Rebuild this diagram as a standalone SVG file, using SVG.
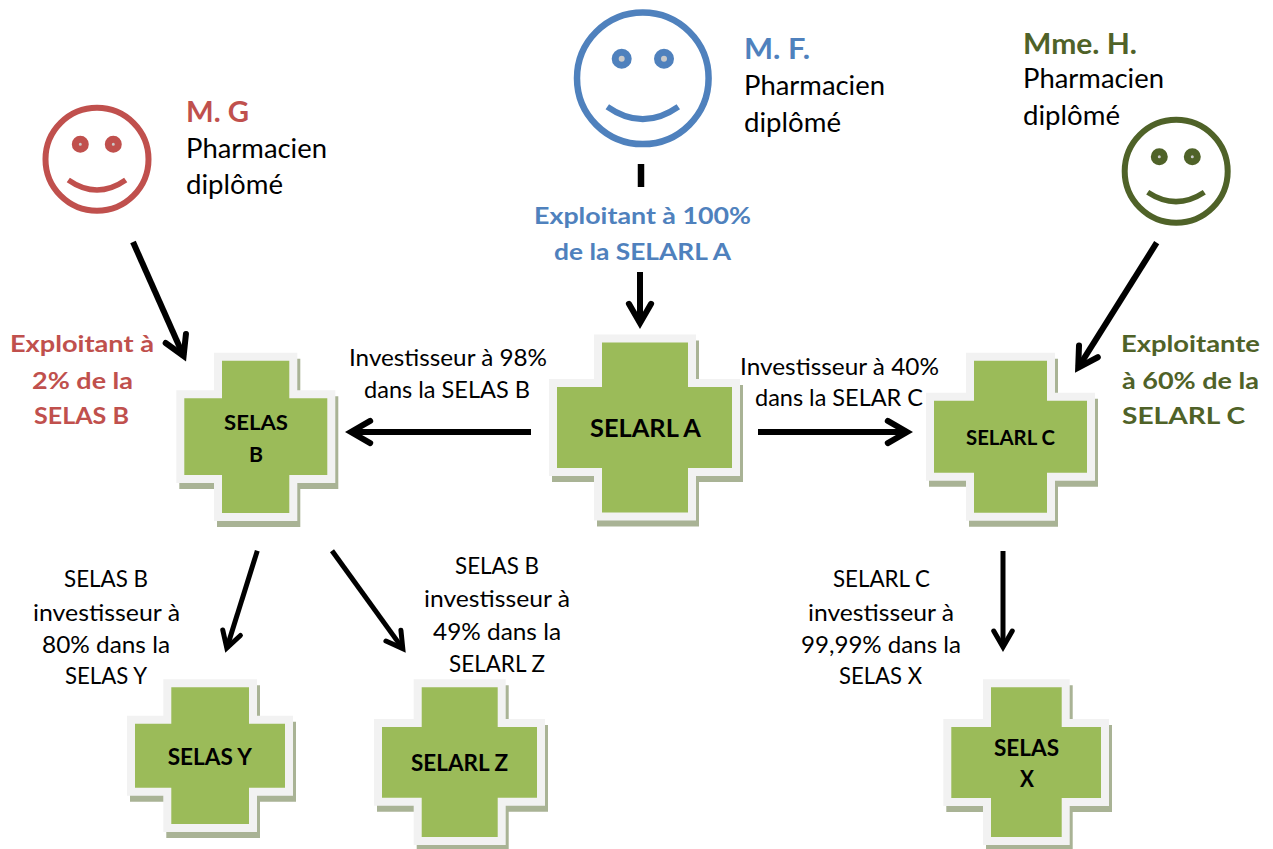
<svg xmlns="http://www.w3.org/2000/svg" width="1273" height="849" viewBox="0 0 1273 849">
<style>
text{font-family:"Lato","Carlito","Open Sans",sans-serif;fill:#000}
.b{font-weight:700}
.name{font-size:28px;font-weight:700}
.ph{font-size:26px}
.lead{font-size:23.5px;font-weight:700}
.inv{font-size:22.5px}
.n1{font-size:25px;font-weight:700}
.n2{font-size:21.5px;font-weight:700}
.n3{font-size:22px;font-weight:700}
.blue{fill:#4f81bd}.red{fill:#c0504d}.green{fill:#4f6228}
.shadow{fill:#a9b395;stroke:#a9b395;stroke-width:8;stroke-linejoin:miter}
.cross{fill:#9bbb59;stroke:#f2f2f2;stroke-width:8;stroke-linejoin:miter}
.face{fill:#fff;stroke-width:6}
.eye{fill:#c9c9c9;stroke-width:7}
.mouth{fill:none;stroke-width:5.5}
.sb{stroke:#4f81bd}.sr{stroke:#c0504d}.sg{stroke:#4f6228}
.arrow{fill:none;stroke:#000;marker-end:url(#head)}
.w6{stroke-width:6}.w5{stroke-width:5}
</style>
<defs>
<marker id="head" viewBox="-4.5 -3 6.5 6" refX="0" refY="0" markerWidth="6.5" markerHeight="6" orient="auto" markerUnits="strokeWidth">
<path d="M-3.2,-1.85 L0,0 L-3.2,1.85" fill="none" stroke="#000" stroke-width="1" stroke-linecap="round" stroke-linejoin="miter"/>
</marker>
</defs>
<g id="connectors">
<line x1="641" y1="164" x2="641" y2="187" stroke="#000" stroke-width="6.5"/>
<line class="arrow w6" x1="640" y1="272" x2="640" y2="323"/>
<line class="arrow w6" x1="133" y1="242" x2="183.6" y2="356"/>
<line class="arrow w6" x1="1156.7" y1="242.7" x2="1078.2" y2="367.6"/>
<line class="arrow w6" x1="531" y1="432" x2="351" y2="432"/>
<line class="arrow w6" x1="758" y1="432" x2="907" y2="432"/>
<line class="arrow w5" x1="257.3" y1="550.7" x2="226.8" y2="648"/>
<line class="arrow w5" x1="332" y1="550.7" x2="402.8" y2="648.6"/>
<line class="arrow w5" x1="1003" y1="551" x2="1003" y2="647"/>
</g>
<g id="person-g">
<circle class="face sr" cx="97" cy="159.2" r="51.5"/>
<circle class="eye sr" cx="80.3" cy="144.3" r="5"/>
<circle class="eye sr" cx="113.3" cy="144.3" r="5"/>
<path class="mouth sr" d="M68.3 180Q97 200 125.7 180"/>
<text class="name red" x="186" y="122" textLength="63" lengthAdjust="spacingAndGlyphs">M. G</text>
<text class="ph" x="186" y="158" textLength="141" lengthAdjust="spacingAndGlyphs">Pharmacien</text>
<text class="ph" x="186" y="194" textLength="97" lengthAdjust="spacingAndGlyphs">diplômé</text>
<text class="lead red" x="10" y="352" textLength="144" lengthAdjust="spacingAndGlyphs">Exploitant à</text>
<text class="lead red" x="32" y="389" textLength="101" lengthAdjust="spacingAndGlyphs">2% de la</text>
<text class="lead red" x="34" y="424" textLength="95" lengthAdjust="spacingAndGlyphs">SELAS B</text>
</g>
<g id="person-f">
<circle class="face sb" cx="642.8" cy="78.3" r="65.8" style="stroke-width:6.5"/>
<circle class="eye sb" cx="621.7" cy="58.7" r="6.5"/>
<circle class="eye sb" cx="664" cy="58.7" r="6.5"/>
<path class="mouth sb" d="M607.3 106.7Q642.8 131.6 678.3 106.7" style="stroke-width:6"/>
<text class="name blue" x="744" y="59" textLength="66" lengthAdjust="spacingAndGlyphs">M. F.</text>
<text class="ph" x="744" y="95" textLength="141" lengthAdjust="spacingAndGlyphs">Pharmacien</text>
<text class="ph" x="744" y="132" textLength="97" lengthAdjust="spacingAndGlyphs">diplômé</text>
<text class="lead blue" x="534" y="224" textLength="217" lengthAdjust="spacingAndGlyphs">Exploitant à 100%</text>
<text class="lead blue" x="554" y="260" textLength="177" lengthAdjust="spacingAndGlyphs">de la SELARL A</text>
</g>
<g id="person-h">
<circle class="face sg" cx="1176.2" cy="171.2" r="51.5"/>
<circle class="eye sg" cx="1159.3" cy="156.7" r="5"/>
<circle class="eye sg" cx="1192.3" cy="156.7" r="5"/>
<path class="mouth sg" d="M1147.7 192.3Q1176 211 1204.3 192.3"/>
<text class="name green" x="1023" y="54" textLength="114" lengthAdjust="spacingAndGlyphs">Mme. H.</text>
<text class="ph" x="1023" y="88" textLength="141" lengthAdjust="spacingAndGlyphs">Pharmacien</text>
<text class="ph" x="1023" y="125" textLength="97" lengthAdjust="spacingAndGlyphs">diplômé</text>
<text class="lead green" x="1121" y="352" textLength="139" lengthAdjust="spacingAndGlyphs">Exploitante</text>
<text class="lead green" x="1122" y="389" textLength="137" lengthAdjust="spacingAndGlyphs">à 60% de la</text>
<text class="lead green" x="1122" y="424" textLength="123" lengthAdjust="spacingAndGlyphs">SELARL C</text>
</g>
<g id="selarl-a">
<path class="shadow" transform="translate(3 6)" d="M598 338.5H692V383H736V472H692V516.5H598V472H553V383H598Z"/>
<path class="cross" d="M598 338.5H692V383H736V472H692V516.5H598V472H553V383H598Z"/>
<text class="n1" x="590" y="437" textLength="111" lengthAdjust="spacingAndGlyphs">SELARL A</text>
</g>
<g id="selas-b">
<path class="shadow" transform="translate(3 6)" d="M218 356.7H293.3V394.3H331.3V479H293.3V517H218V479H180.3V394.3H218Z"/>
<path class="cross" d="M218 356.7H293.3V394.3H331.3V479H293.3V517H218V479H180.3V394.3H218Z"/>
<text class="n2" x="224" y="430" textLength="64" lengthAdjust="spacingAndGlyphs">SELAS</text>
<text class="n2" x="249" y="462" textLength="14" lengthAdjust="spacingAndGlyphs">B</text>
</g>
<g id="selarl-c">
<path class="shadow" transform="translate(3 6)" d="M970 356.7H1051V396.7H1091V476.7H1051V516.7H970V476.7H930V396.7H970Z"/>
<path class="cross" d="M970 356.7H1051V396.7H1091V476.7H1051V516.7H970V476.7H930V396.7H970Z"/>
<text class="n2" x="966" y="445" textLength="89" lengthAdjust="spacingAndGlyphs">SELARL C</text>
</g>
<g id="selas-y">
<path class="shadow" transform="translate(3 6)" d="M167.3 683.3H253V719.7H289V791.7H253V828H167.3V791.7H131V719.7H167.3Z"/>
<path class="cross" d="M167.3 683.3H253V719.7H289V791.7H253V828H167.3V791.7H131V719.7H167.3Z"/>
<text class="n3" x="167.7" y="765" textLength="84.3" lengthAdjust="spacingAndGlyphs">SELAS Y</text>
</g>
<g id="selarl-z">
<path class="shadow" transform="translate(3 6)" d="M417.7 683.3H501.7V723H541V801.7H501.7V841H417.7V801.7H378V723H417.7Z"/>
<path class="cross" d="M417.7 683.3H501.7V723H541V801.7H501.7V841H417.7V801.7H378V723H417.7Z"/>
<text class="n3" x="411" y="770.7" textLength="97" lengthAdjust="spacingAndGlyphs">SELARL Z</text>
</g>
<g id="selas-x">
<path class="shadow" transform="translate(3 6)" d="M987 683.3H1065.7V723H1105V802H1065.7V841H987V802H947.3V723H987Z"/>
<path class="cross" d="M987 683.3H1065.7V723H1105V802H1065.7V841H987V802H947.3V723H987Z"/>
<text class="n3" x="994" y="756" textLength="65" lengthAdjust="spacingAndGlyphs">SELAS</text>
<text class="n3" x="1020" y="787" textLength="14" lengthAdjust="spacingAndGlyphs">X</text>
</g>
<g id="labels">
<text class="inv" x="349" y="366" textLength="198" lengthAdjust="spacingAndGlyphs">Investisseur à 98%</text>
<text class="inv" x="364" y="398" textLength="166" lengthAdjust="spacingAndGlyphs">dans la SELAS B</text>
<text class="inv" x="740" y="375" textLength="199" lengthAdjust="spacingAndGlyphs">Investisseur à 40%</text>
<text class="inv" x="755" y="406" textLength="168" lengthAdjust="spacingAndGlyphs">dans la SELAR C</text>
<text class="inv" x="64" y="587" textLength="84" lengthAdjust="spacingAndGlyphs">SELAS B</text>
<text class="inv" x="33" y="621" textLength="147" lengthAdjust="spacingAndGlyphs">investisseur à</text>
<text class="inv" x="42" y="653" textLength="128" lengthAdjust="spacingAndGlyphs">80% dans la</text>
<text class="inv" x="65" y="684" textLength="82" lengthAdjust="spacingAndGlyphs">SELAS Y</text>
<text class="inv" x="455" y="574" textLength="84" lengthAdjust="spacingAndGlyphs">SELAS B</text>
<text class="inv" x="424" y="607" textLength="146" lengthAdjust="spacingAndGlyphs">investisseur à</text>
<text class="inv" x="433" y="640" textLength="128" lengthAdjust="spacingAndGlyphs">49% dans la</text>
<text class="inv" x="449" y="672" textLength="96" lengthAdjust="spacingAndGlyphs">SELARL Z</text>
<text class="inv" x="833" y="587" textLength="97" lengthAdjust="spacingAndGlyphs">SELARL C</text>
<text class="inv" x="808" y="621" textLength="146" lengthAdjust="spacingAndGlyphs">investisseur à</text>
<text class="inv" x="801" y="653" textLength="160" lengthAdjust="spacingAndGlyphs">99,99% dans la</text>
<text class="inv" x="839" y="684" textLength="83" lengthAdjust="spacingAndGlyphs">SELAS X</text>
</g>
</svg>
